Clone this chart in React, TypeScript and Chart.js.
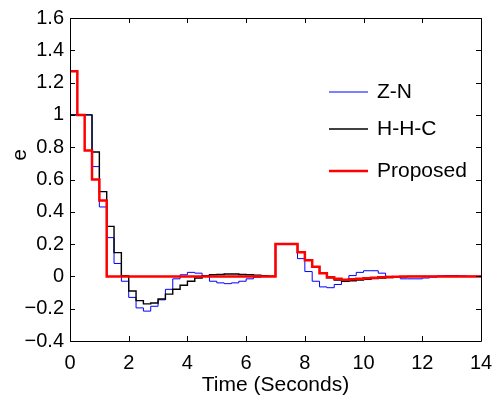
import React, { useEffect, useRef } from "react";
import { Chart, registerables } from "chart.js";

Chart.register(...registerables);

// Sampling period of the discrete-time responses (seconds)
const SAMPLE_PERIOD = 0.25;

// Error e(k) for each controller, sampled every 0.25 s from t = 0 to t = 14
const znValues = [
  1.0, 1.0, 1.0, 0.68, 0.43, 0.24, 0.08, -0.03,
  -0.13, -0.195, -0.215, -0.185, -0.145, -0.08, -0.015, 0.01,
  0.025, 0.02, 0.0, -0.03, -0.04, -0.045, -0.04, -0.03,
  -0.015, -0.005, 0, 0,
  0.2, 0.2, 0.2, 0.11, 0.03, -0.03, -0.065, -0.07,
  -0.05, -0.02, 0.005, 0.025, 0.035, 0.035, 0.02, 0.0,
  -0.005, -0.015, -0.015, -0.015, -0.01, -0.005, 0.003, 0.005,
  0.005, 0.003, 0, 0, 0,
];

const hhcValues = [
  1.0, 1.0, 1.0, 0.77, 0.525, 0.31, 0.147, 0.005,
  -0.09, -0.15, -0.17, -0.165, -0.14, -0.11, -0.08, -0.055,
  -0.03, -0.01, 0.005, 0.01, 0.012, 0.015, 0.015, 0.012,
  0.01, 0.008, 0.005, 0.002,
  0.2, 0.2, 0.2, 0.15, 0.1, 0.06, 0.02, -0.008,
  -0.022, -0.03, -0.027, -0.023, -0.018, -0.014, -0.01, -0.007,
  -0.004, -0.002, 0, 0, 0, 0, 0, 0,
  0, 0, 0, 0, 0,
];

const proposedValues = [
  1.27, 1.0, 0.78, 0.6, 0.47, 0, 0, 0,
  0, 0, 0, 0, 0, 0, 0, 0,
  0, 0, 0, 0, 0, 0, 0, 0,
  0, 0, 0, 0,
  0.2, 0.2, 0.2, 0.15, 0.1, 0.06, 0.02, -0.005,
  -0.015, -0.02, -0.018, -0.015, -0.012, -0.009, -0.006, -0.004,
  -0.002, 0, 0, 0, 0, 0, 0, 0,
  0, 0, 0, 0, 0,
];

const sampleTimes = znValues.map((_, i) => i * SAMPLE_PERIOD);

const seriesLabels = ["Z-N", "H-H-C", "Proposed"];
const seriesColors = ["#0000ff", "#000000", "#ff0000"];

const xTickValues = [0, 2, 4, 6, 8, 10, 12, 14];
const yTickValues = [-0.4, -0.2, 0, 0.2, 0.4, 0.6, 0.8, 1, 1.2, 1.4, 1.6];
const yTickLabels = ["\u22120.4", "\u22120.2", "0", "0.2", "0.4", "0.6", "0.8", "1", "1.2", "1.4", "1.6"];

const xTitle = "Time (Seconds)";
const yTitle = "e";

const FONT_FAMILY = "'Liberation Sans', Arial, Helvetica, sans-serif";

const toPoints = (vals: number[]) => vals.map((v, i) => ({ x: sampleTimes[i], y: v }));

const boxPlugin = {
  id: "matlabBox",
  afterDraw(chart: any) {
    const { ctx, chartArea, scales } = chart;
    const { left, right, top, bottom } = chartArea;
    const tickLen = 5;
    ctx.save();
    ctx.strokeStyle = "#000";
    ctx.lineWidth = 1;
    ctx.beginPath();
    ctx.rect(Math.round(left) + 0.5, Math.round(top) + 0.5, Math.round(right - left), Math.round(bottom - top));
    ctx.stroke();
    ctx.beginPath();
    xTickValues.forEach((v) => {
      const px = Math.round(scales.x.getPixelForValue(v)) + 0.5;
      ctx.moveTo(px, bottom);
      ctx.lineTo(px, bottom - tickLen);
      ctx.moveTo(px, top);
      ctx.lineTo(px, top + tickLen);
    });
    yTickValues.forEach((v) => {
      const py = Math.round(scales.y.getPixelForValue(v)) + 0.5;
      ctx.moveTo(left, py);
      ctx.lineTo(left + tickLen, py);
      ctx.moveTo(right, py);
      ctx.lineTo(right - tickLen, py);
    });
    ctx.stroke();

    // legend inside the axes
    const legendRows = [top + 74, top + 111, top + 153];
    const ds = chart.data.datasets;
    ctx.font = `21px ${FONT_FAMILY}`;
    ctx.textBaseline = "middle";
    ctx.textAlign = "left";
    seriesLabels.forEach((label, i) => {
      const d = ds.find((s: any) => s.label === label);
      const y = legendRows[i];
      ctx.beginPath();
      ctx.strokeStyle = d.borderColor;
      ctx.lineWidth = d.borderWidth;
      ctx.moveTo(right - 152, y);
      ctx.lineTo(right - 113, y);
      ctx.stroke();
      ctx.fillStyle = "#000";
      ctx.fillText(label, right - 104, y);
    });

    // y-axis label
    ctx.save();
    ctx.translate(20, 155);
    ctx.rotate(-Math.PI / 2);
    ctx.textAlign = "center";
    ctx.textBaseline = "middle";
    ctx.fillStyle = "#000";
    ctx.fillText(yTitle, 0, 0);
    ctx.restore();
    ctx.restore();
  },
};

export default function App() {
  const canvasRef = useRef<HTMLCanvasElement | null>(null);

  useEffect(() => {
    if (!canvasRef.current) return;
    const widths = [1, 1.4, 2.5];
    const orders = [2, 1, 0];
    const valueSets = [znValues, hhcValues, proposedValues];
    const chart = new Chart(canvasRef.current, {
      type: "line",
      data: {
        datasets: seriesLabels.map((label, i) => ({
          label,
          data: toPoints(valueSets[i]),
          borderColor: seriesColors[i],
          backgroundColor: seriesColors[i],
          borderWidth: widths[i],
          stepped: "before" as const,
          pointRadius: 0,
          fill: false,
          order: orders[i],
        })),
      },
      options: {
        responsive: false,
        animation: false,
        layout: { padding: { left: 0, top: 18, right: 16, bottom: 0 } },
        plugins: {
          legend: { display: false },
          tooltip: { enabled: false },
        },
        scales: {
          x: {
            type: "linear",
            min: 0,
            max: 14,
            afterBuildTicks: (s: any) => {
              s.ticks = xTickValues.map((v) => ({ value: v }));
            },
            afterFit: (s: any) => {
              s.height = 62;
              s.paddingLeft = 0;
              s.paddingRight = 0;
            },
            ticks: {
              color: "#000",
              font: { family: FONT_FAMILY, size: 20 },
              padding: 10,
              maxRotation: 0,
              autoSkip: false,
              callback: (v: any) => String(v),
            },
            grid: { display: false, drawTicks: false },
            border: { display: false },
            title: {
              display: true,
              text: xTitle,
              color: "#000",
              font: { family: FONT_FAMILY, size: 21 },
              padding: { top: 0, bottom: 5 },
            },
          },
          y: {
            type: "linear",
            min: -0.4,
            max: 1.6,
            afterBuildTicks: (s: any) => {
              s.ticks = yTickValues.map((v) => ({ value: v }));
            },
            afterFit: (s: any) => {
              s.width = 70;
              s.paddingTop = 0;
              s.paddingBottom = 0;
            },
            ticks: {
              color: "#000",
              font: { family: FONT_FAMILY, size: 20 },
              padding: 6,
              autoSkip: false,
              callback: (_v: any, idx: number) => yTickLabels[idx],
            },
            grid: { display: false, drawTicks: false },
            border: { display: false },
          },
        },
      },
      plugins: [boxPlugin],
    });
    return () => chart.destroy();
  }, []);

  return (
    <div style={{ position: "fixed", left: 0, top: 0, width: 497, height: 403, background: "#fff" }}>
      <canvas ref={canvasRef} width={497} height={403} style={{ display: "block" }} />
    </div>
  );
}
